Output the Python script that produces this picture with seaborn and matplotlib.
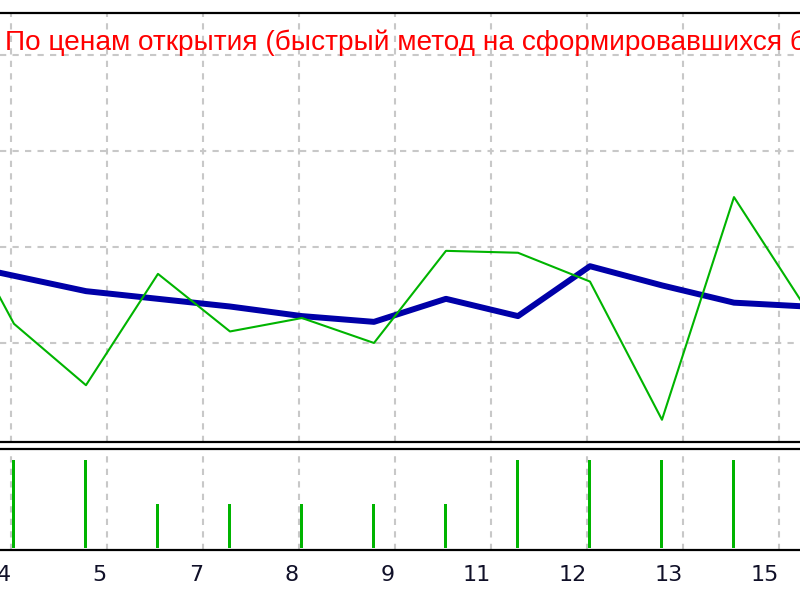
import numpy as np
import matplotlib
matplotlib.use("Agg")
import matplotlib.pyplot as plt
import seaborn as sns

# Balance / equity after every closed trade (trade number -> account value)
trades = [3, 4, 5, 6, 7, 8, 9, 10, 11, 12, 13, 14, 15]
balance = [10093, 10085, 10077, 10073, 10069, 10064, 10061, 10073, 10064, 10090, 10080, 10071, 10069]
equity = [10130, 10060, 10028, 10086, 10056, 10063, 10050, 10098, 10097, 10082, 10010, 10126, 10068]

# Lot size of each trade (lower panel)
lot_trades = [4, 5, 6, 7, 8, 9, 10, 11, 12, 13, 14]
lots = [0.2, 0.2, 0.1, 0.1, 0.1, 0.1, 0.1, 0.2, 0.2, 0.2, 0.2]

# x axis labels and the value grid of the upper panel
tick_labels = ["4", "5", "7", "8", "9", "11", "12", "13", "15"]
value_grid = [10050, 10100, 10150, 10200]
title_text = "По ценам открытия (быстрый метод на сформировавшихся барах)"

BLUE = "#0000a8"
GREEN = "#00b400"
GRID = "#c8c8c8"

sns.set_style("white")
plt.rcParams['font.family'] = ['DejaVu Sans']

fig = plt.figure(figsize=(8, 6), dpi=100)
ax1 = fig.add_axes([0.0, 0.2633, 1.0, 0.715])
ax2 = fig.add_axes([0.0, 0.0833, 1.0, 0.1684])

# grid every 4/3 trades, labels are the rounded trade numbers
tick_pos = 3.958 + np.arange(len(tick_labels)) * 4 / 3
xlim = (3.806, 14.917)

# upper panel: balance (thick blue) and equity (thin green)
sns.lineplot(x=trades, y=balance, color=BLUE, linewidth=4.3, ax=ax1)
sns.lineplot(x=trades, y=equity, color=GREEN, linewidth=1.5, ax=ax1)
ax1.set_xlim(*xlim)
ax1.set_ylim(9998.4, 10221.9)
ax1.set_xticks(tick_pos)
ax1.set_yticks(value_grid)
ax1.tick_params(length=0, labelbottom=False, labelleft=False)
ax1.grid(True, color=GRID, linestyle=(0, (3, 3)), linewidth=1.5)
ax1.set_xlabel("")
ax1.set_ylabel("")

# lower panel: lots as thin green bars
sns.barplot(x=lot_trades, y=lots, native_scale=True, width=0.042, color=GREEN,
            saturation=1, linewidth=0, ax=ax2)
ax2.set_xlim(*xlim)
ax2.set_ylim(-0.0045, 0.225)
ax2.set_xticks(tick_pos)
ax2.set_xticklabels(tick_labels, ha="right", fontsize=16, color="#101028")
ax2.set_yticks([])
ax2.tick_params(axis="x", length=3, width=1.5, pad=8, color="black")
ax2.grid(True, axis="x", color=GRID, linestyle=(0, (3, 3)), linewidth=1.5)
ax2.set_xlabel("")
ax2.set_ylabel("")

for ax in (ax1, ax2):
    ax.set_axisbelow(True)
    for side in ("left", "right"):
        ax.spines[side].set_visible(False)
    for side in ("top", "bottom"):
        ax.spines[side].set_color("black")
        ax.spines[side].set_linewidth(1.6)

# the tester caption runs past the right edge, as in the terminal window
fig.text(5 / 800, 1 - 50 / 600, title_text, color="#ff0000", fontsize=20.2,
         family="Liberation Sans", ha="left", va="baseline")

fig.savefig("out.png", dpi=100)
